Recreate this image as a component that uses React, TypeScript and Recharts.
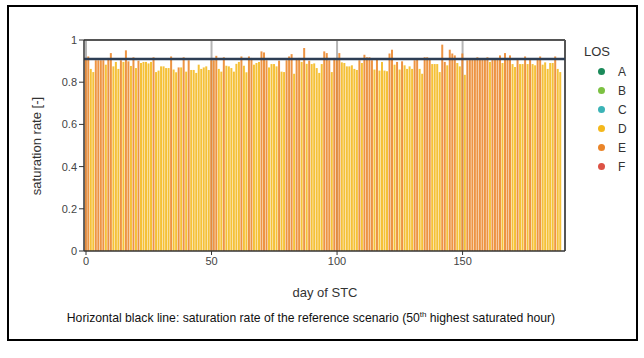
import React from 'react';
import { BarChart, Bar, XAxis, YAxis, CartesianGrid, ReferenceLine, Cell } from 'recharts';

const satRate: number[] = [
  0.907, 0.922, 0.863, 0.848, 0.904, 0.904, 0.904, 0.904, 0.883, 0.915,
  0.938, 0.875, 0.896, 0.863, 0.904, 0.896, 0.951, 0.899, 0.877, 0.918,
  0.867, 0.902, 0.891, 0.896, 0.896, 0.889, 0.896, 0.918, 0.848, 0.855,
  0.875, 0.875, 0.867, 0.867, 0.922, 0.86, 0.847, 0.87, 0.87, 0.918,
  0.85, 0.904, 0.858, 0.858, 0.844, 0.883, 0.863, 0.87, 0.875, 0.858,
  0.904, 0.904, 0.925, 0.863, 0.85, 0.918, 0.878, 0.875, 0.867, 0.85,
  0.887, 0.896, 0.922, 0.878, 0.847, 0.922, 0.915, 0.883, 0.891, 0.896,
  0.946, 0.941, 0.904, 0.87, 0.886, 0.886, 0.875, 0.902, 0.85, 0.848,
  0.904, 0.922, 0.933, 0.84, 0.911, 0.915, 0.896, 0.962, 0.887, 0.902,
  0.886, 0.889, 0.867, 0.844, 0.886, 0.946, 0.938, 0.904, 0.848, 0.915,
  0.904, 0.938, 0.894, 0.891, 0.875, 0.875, 0.88, 0.863, 0.858, 0.904,
  0.891, 0.93, 0.918, 0.918, 0.904, 0.86, 0.911, 0.855, 0.896, 0.855,
  0.852, 0.936, 0.954, 0.883, 0.896, 0.86, 0.899, 0.88, 0.863, 0.875,
  0.863, 0.904, 0.911, 0.863, 0.84, 0.918, 0.918, 0.911, 0.886, 0.886,
  0.886, 0.848, 0.978, 0.896, 0.88, 0.954, 0.936, 0.927, 0.891, 0.875,
  0.936, 0.835, 0.904, 0.905, 0.905, 0.905, 0.918, 0.905, 0.905, 0.905,
  0.918, 0.896, 0.905, 0.905, 0.905, 0.927, 0.891, 0.938, 0.915, 0.927,
  0.886, 0.872, 0.905, 0.886, 0.886, 0.922, 0.886, 0.905, 0.886, 0.88,
  0.905, 0.922, 0.883, 0.894, 0.863, 0.891, 0.891, 0.922, 0.863, 0.848,
];

const losClass: string[] = [
  'E','E','D','D','E','E','E','E','D','E',
  'E','D','D','D','E','D','E','E','D','E',
  'D','E','D','D','D','D','D','E','D','D',
  'D','D','D','D','E','D','D','E','D','E',
  'D','E','D','D','D','D','D','D','D','D',
  'E','E','E','D','D','E','D','D','D','D',
  'D','D','E','D','D','E','E','D','D','D',
  'E','E','E','D','D','D','D','E','D','D',
  'E','E','E','D','E','E','D','E','D','E',
  'D','D','D','D','D','E','E','E','D','E',
  'E','E','D','D','D','D','D','D','D','E',
  'D','E','E','E','E','D','E','D','D','D',
  'D','E','E','D','E','D','E','D','D','D',
  'D','E','E','D','D','E','E','E','D','D',
  'D','D','E','E','D','E','E','E','D','D',
  'E','D','E','E','E','E','E','E','E','E',
  'E','D','E','E','E','E','D','E','E','E',
  'D','D','E','D','D','E','D','E','D','D',
  'E','E','D','D','D','D','D','E','D','D',
];

const referenceRate = 0.91;
const xTicks = [0, 50, 100, 150];
const yTicks = [0, 0.2, 0.4, 0.6, 0.8, 1];
const losLabels = ['A', 'B', 'C', 'D', 'E', 'F'];
const losColors: Record<string, string> = {
  A: '#1b8a5a',
  B: '#7cc142',
  C: '#3bb3b6',
  D: '#f4b81c',
  E: '#ea8529',
  F: '#dc5245',
};

const data = satRate.map((v, i) => ({ day: i, rate: v, los: losClass[i] }));

const FONT = 'Liberation Sans, Arial, sans-serif';

export default function App() {
  return (
    <div style={{ position: 'absolute', left: 0, top: 0, width: 644, height: 358, background: '#fff' }}>
      <div style={{ position: 'absolute', left: 7, top: 5, width: 627, height: 332, border: '2px solid #000' }} />
      <div style={{ position: 'absolute', left: 0, top: 0 }}>
        <BarChart
          width={644}
          height={358}
          data={data}
          margin={{ top: 40, right: 79, bottom: 77, left: 24 }}
          barGap={0}
        >
          <CartesianGrid horizontal={false} vertical stroke="#b5b5b5" strokeWidth={2} verticalValues={xTicks} />
          <XAxis
            dataKey="day"
            type="number"
            domain={[-0.8, 190.8]}
            ticks={xTicks}
            allowDataOverflow
            height={30}
            tickSize={4}
            tick={{ fill: '#444', fontSize: 11, fontFamily: FONT }}
            axisLine={{ stroke: '#333', strokeWidth: 1.5 }}
            tickLine={{ stroke: '#333' }}
          />
          <YAxis
            type="number"
            domain={[0, 1]}
            ticks={yTicks}
            width={60}
            tickSize={5}
            tick={{ fill: '#444', fontSize: 11, fontFamily: FONT }}
            axisLine={{ stroke: '#333', strokeWidth: 1.5 }}
            tickLine={{ stroke: '#333' }}
          />
          <Bar dataKey="rate" barSize={2} isAnimationActive={false}>
            {data.map((d, i) => (
              <Cell key={i} fill={losColors[d.los]} fillOpacity={0.88} />
            ))}
          </Bar>
          <ReferenceLine y={1} stroke="#555" strokeWidth={2} />
          <ReferenceLine x={190.8} stroke="#555" strokeWidth={2} />
          <ReferenceLine y={referenceRate} stroke="#2d3e55" strokeWidth={2.5} />
        </BarChart>
      </div>
      <div style={{ position: 'absolute', left: 584, top: 44, fontFamily: FONT, color: '#333' }}>
        <div style={{ fontSize: 13, height: 18 }}>LOS</div>
        {losLabels.map((l) => (
          <div key={l} style={{ display: 'flex', alignItems: 'center', height: 19, fontSize: 12 }}>
            <span style={{ display: 'inline-block', width: 7, height: 7, borderRadius: 4, background: losColors[l], marginLeft: 14 }} />
            <span style={{ marginLeft: 13 }}>{l}</span>
          </div>
        ))}
      </div>
      <svg width={644} height={358} style={{ position: 'absolute', left: 0, top: 0, pointerEvents: 'none' }}>
        <text x={41} y={146} transform="rotate(-90 41 146)" textAnchor="middle" fontFamily={FONT} fontSize={13} fill="#333">
          saturation rate [-]
        </text>
        <text x={325} y={297} textAnchor="middle" fontFamily={FONT} fontSize={13} fill="#333">
          day of STC
        </text>
        <text x={311} y={322} textAnchor="middle" fontFamily={FONT} fontSize={12.2} fill="#111">
          Horizontal black line: saturation rate of the reference scenario (50
          <tspan fontSize={8} dy={-5}>th</tspan>
          <tspan dy={5}> highest saturated hour)</tspan>
        </text>
      </svg>
    </div>
  );
}
